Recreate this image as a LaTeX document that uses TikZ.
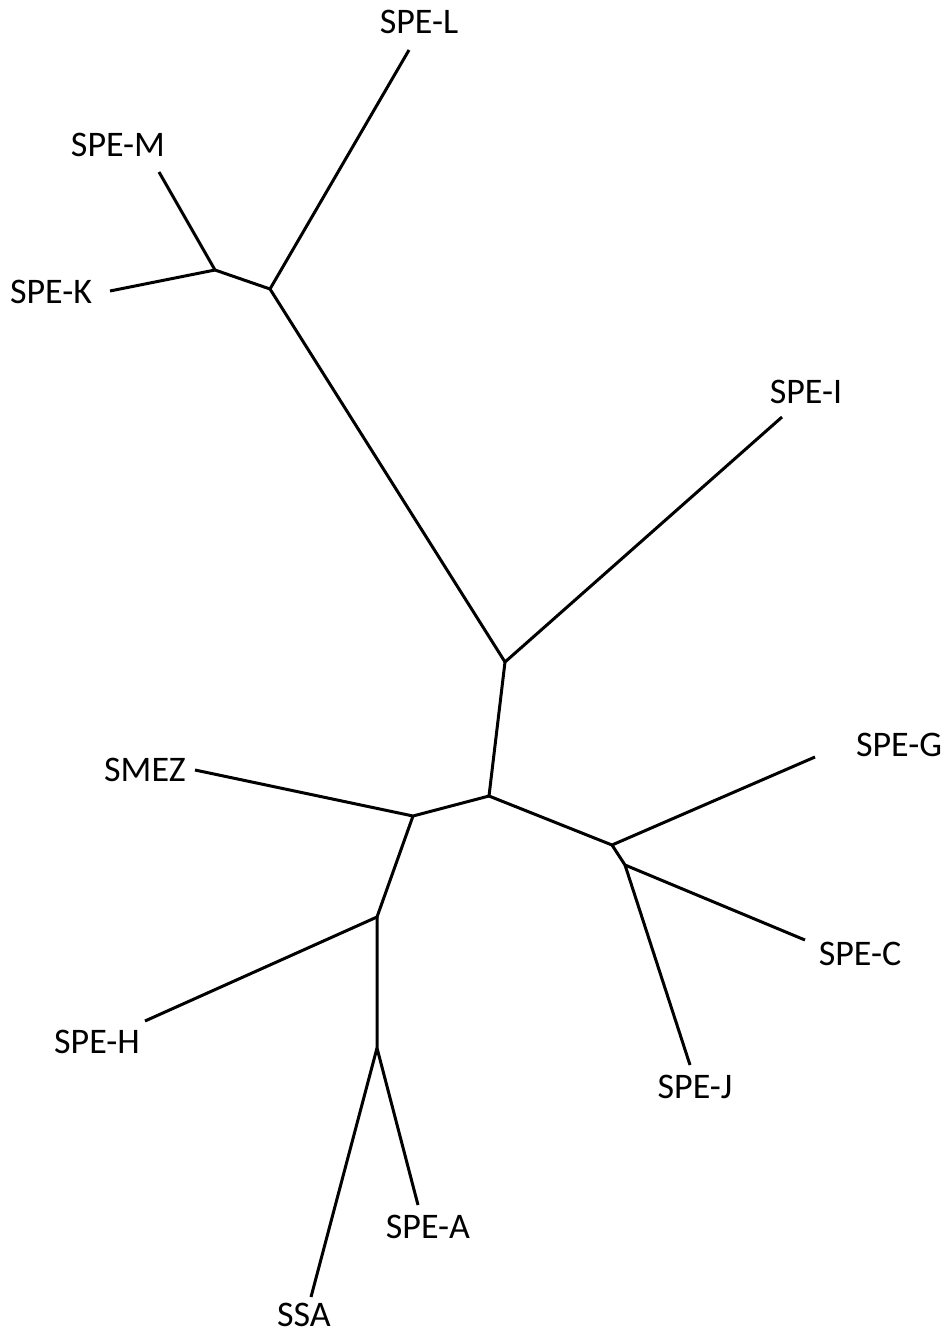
\documentclass[tikz,border=0pt]{standalone}
\usepackage{fontspec}
\setmainfont{Carlito}
\begin{document}
\begin{tikzpicture}[x=1pt,y=-1pt,
  branch/.style={line width=3pt,line cap=butt,line join=miter},
  taxon/.style={font=\fontsize{36}{36}\selectfont,inner sep=0pt,anchor=base}]
\useasboundingbox (0,0) rectangle (946,1333);
% internal nodes
\coordinate (nA) at (215,270);
\coordinate (nB) at (270,289);
\coordinate (nC) at (505,662);
\coordinate (nD) at (489,796);
\coordinate (nE) at (413,816);
\coordinate (nF) at (612,845);
\coordinate (nF2) at (625,865);
\coordinate (nG) at (377,917);
\coordinate (nH) at (377,1048);
% leaf ends
\coordinate (lL) at (409,50);
\coordinate (lM) at (159,172);
\coordinate (lK) at (110,291);
\coordinate (lI) at (782,417);
\coordinate (lSMEZ) at (195,770);
\coordinate (lG) at (815,757);
\coordinate (lC) at (805,940);
\coordinate (lJ) at (690,1065);
\coordinate (lH) at (145,1021);
\coordinate (lA) at (418,1205);
\coordinate (lSSA) at (311,1297);
% labels
\node[taxon] (tL) at (419,33) {SPE-L};
\node[taxon] (tM) at (118,156) {SPE-M};
\node[taxon] (tK) at (51,303) {SPE-K};
\node[taxon] (tI) at (806,403) {SPE-I};
\node[taxon] (tG) at (899,756) {SPE-G};
\node[taxon] (tSMEZ) at (145,781) {SMEZ};
\node[taxon] (tC) at (860,965) {SPE-C};
\node[taxon] (tJ) at (695,1098) {SPE-J};
\node[taxon] (tH) at (97,1053) {SPE-H};
\node[taxon] (tA) at (428,1238) {SPE-A};
\node[taxon] (tSSA) at (304,1326) {SSA};
% branches
\draw[branch] (lL) -- (nB);
\draw[branch] (lM) -- (nA) -- (nB);
\draw[branch] (lK) -- (nA);
\draw[branch] (nB) -- (nC) -- (lI);
\draw[branch] (nC) -- (nD) -- (nE) -- (lSMEZ);
\draw[branch] (nD) -- (nF) -- (lG);
\draw[branch] (nF) -- (nF2) -- (lC);
\draw[branch] (nF2) -- (lJ);
\draw[branch] (nE) -- (nG) -- (lH);
\draw[branch] (nG) -- (nH) -- (lA);
\draw[branch] (nH) -- (lSSA);
\end{tikzpicture}
\end{document}
